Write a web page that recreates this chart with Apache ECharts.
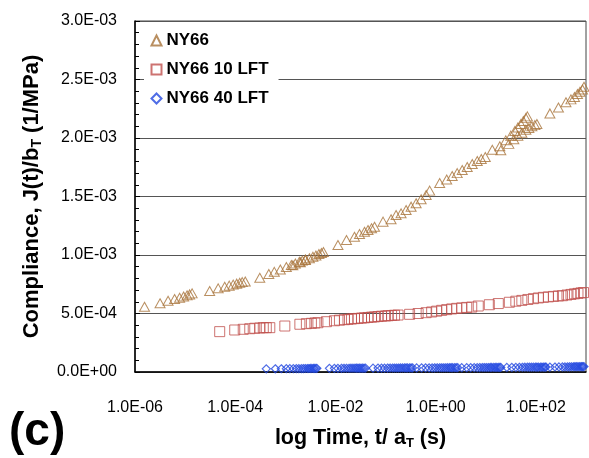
<!DOCTYPE html>
<html>
<head>
<meta charset="utf-8">
<script src="https://cdn.jsdelivr.net/npm/echarts@6/dist/echarts.min.js"></script>
<style>
html,body{margin:0;padding:0;background:#fff;}
#chart{width:589px;height:458px;}
</style>
</head>
<body>
<div id="chart"></div>
<script>
// ---- data: log10 of reduced time t/aT (s) and compliance J(t)/bT (1/MPa) ----
const seriesNames = ['NY66', 'NY66 10 LFT', 'NY66 40 LFT'];

const ny66LogTime = [
  -5.81, -5.50, -5.34, -5.21, -5.11, -5.03, -4.96, -4.91, -4.86,
  -4.51, -4.34, -4.21, -4.12, -4.04, -3.97, -3.91, -3.86, -3.80,
  -3.51, -3.33, -3.22, -3.10, -2.98, -2.88, -2.80, -2.72, -2.66, -2.60,
  -2.85, -2.70, -2.60, -2.52, -2.45, -2.39, -2.33, -2.28, -2.24,
  -1.95, -1.78, -1.62, -1.52, -1.42, -1.35, -1.28, -1.22,
  -1.05, -0.89, -0.79, -0.69, -0.59, -0.49, -0.39, -0.29, -0.19, -0.12,
  0.08, 0.22, 0.33, 0.43, 0.53, 0.63, 0.73, 0.83, 0.91, 0.99,
  1.13, 1.28, 1.40, 1.50, 1.58, 1.64, 1.70, 1.75, 1.80, 1.83,
  1.30, 1.46, 1.56, 1.64, 1.72, 1.80, 1.86, 1.92, 1.98, 2.02,
  2.28, 2.45, 2.60, 2.70, 2.77, 2.83, 2.88, 2.93, 2.96
];
const ny66J = [
  5.58e-4, 5.87e-4, 6.09e-4, 6.24e-4, 6.35e-4, 6.45e-4, 6.55e-4, 6.63e-4, 6.72e-4,
  6.92e-4, 7.15e-4, 7.28e-4, 7.38e-4, 7.47e-4, 7.55e-4, 7.62e-4, 7.68e-4, 7.74e-4,
  8.06e-4, 8.37e-4, 8.56e-4, 8.76e-4, 8.97e-4, 9.14e-4, 9.27e-4, 9.42e-4, 9.52e-4, 9.62e-4,
  9.12e-4, 9.38e-4, 9.58e-4, 9.72e-4, 9.85e-4, 9.96e-4, 10.08e-4, 10.17e-4, 10.25e-4,
  10.85e-4, 11.28e-4, 11.56e-4, 11.80e-4, 11.99e-4, 12.14e-4, 12.28e-4, 12.42e-4,
  12.85e-4, 13.05e-4, 13.42e-4, 13.56e-4, 13.85e-4, 14.13e-4, 14.42e-4, 14.76e-4, 15.13e-4, 15.50e-4,
  16.15e-4, 16.45e-4, 16.75e-4, 17.00e-4, 17.26e-4, 17.52e-4, 17.78e-4, 18.03e-4, 18.20e-4, 18.38e-4,
  19.00e-4, 19.30e-4, 19.80e-4, 20.20e-4, 20.60e-4, 20.90e-4, 21.20e-4, 21.45e-4, 21.70e-4, 21.85e-4,
  18.95e-4, 19.50e-4, 19.90e-4, 20.20e-4, 20.45e-4, 20.70e-4, 20.85e-4, 21.00e-4, 21.10e-4, 21.20e-4,
  22.10e-4, 22.60e-4, 23.05e-4, 23.30e-4, 23.50e-4, 23.76e-4, 23.95e-4, 24.15e-4, 24.38e-4
];

const lft10LogTime = [
  -4.31, -4.01, -3.84, -3.71, -3.61, -3.51, -3.44, -3.38, -3.31,
  -3.01, -2.71, -2.58, -2.48, -2.41, -2.35,
  -2.18, -2.02, -1.92, -1.82, -1.75, -1.68, -1.62, -1.55, -1.48, -1.42,
  -1.35, -1.28, -1.22, -1.15, -1.08, -1.00, -0.95, -0.88, -0.82, -0.75,
  -0.52, -0.35, -0.19, -0.08, 0.02, 0.12, 0.22, 0.32, 0.42, 0.52, 0.62, 0.72,
  0.85, 1.07, 1.25, 1.47, 1.60, 1.72, 1.84, 1.95, 2.05, 2.15, 2.25, 2.35, 2.45, 2.53,
  2.62, 2.70, 2.77, 2.84, 2.90, 2.95
];
const lft10J = [
  3.45e-4, 3.59e-4, 3.65e-4, 3.70e-4, 3.74e-4, 3.76e-4, 3.79e-4, 3.79e-4, 3.79e-4,
  3.93e-4, 4.08e-4, 4.13e-4, 4.16e-4, 4.19e-4, 4.21e-4,
  4.30e-4, 4.38e-4, 4.43e-4, 4.47e-4, 4.50e-4, 4.53e-4, 4.56e-4, 4.58e-4, 4.61e-4, 4.63e-4,
  4.66e-4, 4.69e-4, 4.71e-4, 4.74e-4, 4.77e-4, 4.79e-4, 4.81e-4, 4.83e-4, 4.85e-4, 4.87e-4,
  4.93e-4, 5.00e-4, 5.07e-4, 5.13e-4, 5.20e-4, 5.27e-4, 5.33e-4, 5.39e-4, 5.44e-4, 5.48e-4, 5.52e-4, 5.55e-4,
  5.64e-4, 5.75e-4, 5.85e-4, 5.96e-4, 6.05e-4, 6.12e-4, 6.20e-4, 6.27e-4, 6.33e-4, 6.38e-4, 6.42e-4, 6.46e-4, 6.50e-4, 6.52e-4,
  6.58e-4, 6.63e-4, 6.68e-4, 6.72e-4, 6.76e-4, 6.79e-4
];

const lft40LogTime = [
  -3.38, -3.20, -3.08, -2.98, -2.91, -2.84, -2.78, -2.73, -2.68, -2.64, -2.60, -2.56, -2.53, -2.50, -2.47, -2.44, -2.42, -2.39, -2.37,
  -2.12, -2.02, -1.95, -1.88, -1.83, -1.78, -1.73, -1.69, -1.65, -1.61, -1.58, -1.55, -1.52, -1.49, -1.46, -1.43, -1.40,
  -1.25, -1.15, -1.08, -1.02, -0.96, -0.91, -0.86, -0.82, -0.78, -0.74, -0.70, -0.66, -0.62, -0.59, -0.56, -0.52, -0.49, -0.46,
  -0.38, -0.28, -0.20, -0.13, -0.07, -0.02, 0.03, 0.08, 0.12, 0.16, 0.20, 0.24, 0.28, 0.31, 0.34, 0.38, 0.41, 0.44,
  0.52, 0.62, 0.70, 0.77, 0.83, 0.88, 0.93, 0.97, 1.01, 1.05, 1.09, 1.12, 1.16, 1.19, 1.22, 1.25, 1.28, 1.30,
  1.42, 1.52, 1.60, 1.67, 1.73, 1.78, 1.83, 1.87, 1.91, 1.95, 1.99, 2.02, 2.05, 2.09, 2.12, 2.15, 2.18, 2.20,
  2.28, 2.38, 2.46, 2.53, 2.58, 2.63, 2.67, 2.71, 2.75, 2.78, 2.81, 2.84, 2.87, 2.90, 2.92, 2.94, 2.96
];
const lft40J = [
  2.70e-5, 2.75e-5, 2.80e-5, 2.83e-5, 2.86e-5, 2.88e-5, 2.90e-5, 2.92e-5, 2.94e-5, 2.96e-5, 2.98e-5, 3.00e-5, 3.01e-5, 3.03e-5, 3.04e-5, 3.06e-5, 3.07e-5, 3.09e-5, 3.10e-5,
  3.10e-5, 3.13e-5, 3.15e-5, 3.17e-5, 3.19e-5, 3.20e-5, 3.22e-5, 3.23e-5, 3.24e-5, 3.25e-5, 3.26e-5, 3.27e-5, 3.28e-5, 3.29e-5, 3.30e-5, 3.31e-5, 3.32e-5,
  3.30e-5, 3.33e-5, 3.35e-5, 3.37e-5, 3.39e-5, 3.40e-5, 3.41e-5, 3.42e-5, 3.43e-5, 3.44e-5, 3.45e-5, 3.46e-5, 3.47e-5, 3.48e-5, 3.49e-5, 3.50e-5, 3.51e-5, 3.52e-5,
  3.50e-5, 3.53e-5, 3.55e-5, 3.57e-5, 3.59e-5, 3.60e-5, 3.61e-5, 3.62e-5, 3.63e-5, 3.64e-5, 3.65e-5, 3.66e-5, 3.67e-5, 3.68e-5, 3.69e-5, 3.70e-5, 3.71e-5, 3.72e-5,
  3.70e-5, 3.73e-5, 3.76e-5, 3.78e-5, 3.80e-5, 3.82e-5, 3.83e-5, 3.84e-5, 3.85e-5, 3.86e-5, 3.87e-5, 3.88e-5, 3.89e-5, 3.90e-5, 3.91e-5, 3.92e-5, 3.93e-5, 3.94e-5,
  3.92e-5, 3.97e-5, 4.01e-5, 4.04e-5, 4.07e-5, 4.09e-5, 4.11e-5, 4.13e-5, 4.15e-5, 4.17e-5, 4.18e-5, 4.19e-5, 4.20e-5, 4.21e-5, 4.22e-5, 4.23e-5, 4.24e-5, 4.25e-5,
  4.22e-5, 4.28e-5, 4.33e-5, 4.37e-5, 4.40e-5, 4.43e-5, 4.46e-5, 4.48e-5, 4.50e-5, 4.52e-5, 4.54e-5, 4.56e-5, 4.58e-5, 4.60e-5, 4.61e-5, 4.62e-5, 4.63e-5
];

// axis ranges / tick settings
const xMin = 1e-6, xMax = 1e3;
const yMin = 0, yMax = 3.0e-3, yStep = 5.0e-4;

// -------------------------------------------------------------
function pairs(logT, J) { return logT.map((v, i) => [Math.pow(10, v), J[i]]); }
function sci(v) {
  if (v === 0) return '0.0E+00';
  let e = Math.floor(Math.log10(Math.abs(v)) + 1e-9);
  let m = v / Math.pow(10, e);
  if (Math.round(m * 10) / 10 >= 10) { e += 1; m = v / Math.pow(10, e); }
  return m.toFixed(1) + 'E' + (e < 0 ? '-' : '+') + String(Math.abs(e)).padStart(2, '0');
}
function xLabel(v) {
  const e = Math.round(Math.log10(v));
  return (Math.abs(e) % 2 === 0) ? sci(v) : '';
}

const FONT = '"Liberation Sans", Arial, sans-serif';
const colors = ['#a8733a', '#c0504d', '#2349e0'];
const symbols = ['triangle', 'rect', 'diamond'];
const sizes = [[10, 9], [10, 10], [8, 8]];
const widths = [1, 1, 1.2];
const datas = [pairs(ny66LogTime, ny66J), pairs(lft10LogTime, lft10J), pairs(lft40LogTime, lft40J)];

const chart = echarts.init(document.getElementById('chart'), null, { renderer: 'canvas' });
chart.setOption({
  animation: false,
  backgroundColor: '#fff',
  textStyle: { fontFamily: FONT },
  grid: { left: 135, right: 3, top: 21, bottom: 86, show: true, borderColor: '#444', borderWidth: 1 },
  legend: {
    orient: 'vertical', left: 144, top: 27, padding: [5, 10, 5, 5],
    backgroundColor: '#fff', itemWidth: 10, itemHeight: 10, itemGap: 12,
    textStyle: { fontFamily: FONT, fontSize: 17, fontWeight: 'bold', color: '#000' },
    data: seriesNames.slice()
  },
  xAxis: {
    type: 'log', logBase: 10, min: xMin, max: xMax,
    axisLine: { show: true, lineStyle: { color: '#000', width: 1.5 } },
    axisTick: { show: false },
    splitLine: { show: false },
    axisLabel: { interval: 0, margin: 28, fontSize: 16, color: '#000', fontFamily: FONT, showMinLabel: true, showMaxLabel: false, hideOverlap: false, formatter: xLabel },
    name: 'log Time, t/ a{sub|T} (s)', nameLocation: 'middle', nameGap: 54,
    nameTextStyle: {
      fontSize: 21.5, fontWeight: 'bold', color: '#000', fontFamily: FONT,
      rich: { sub: { fontSize: 13, fontWeight: 'bold', color: '#000', fontFamily: FONT, padding: [11, 0, 0, 0] } }
    }
  },
  yAxis: {
    type: 'value', min: yMin, max: yMax, interval: yStep,
    axisLine: { show: true, lineStyle: { color: '#000', width: 1.5 } },
    axisTick: { show: true, inside: true, length: 5, lineStyle: { color: '#000' } },
    minorTick: { show: true, splitNumber: 5, length: 4, lineStyle: { color: '#000' } },
    splitLine: { show: true, lineStyle: { color: '#555', width: 1 } },
    axisLabel: { margin: 18, fontSize: 16, color: '#000', fontFamily: FONT, formatter: v => sci(v) },
    name: 'Compliance, J(t)/b{sub|T} (1/MPa)', nameLocation: 'middle', nameGap: 91, nameRotate: 90,
    nameTextStyle: {
      fontSize: 22, fontWeight: 'bold', color: '#000', fontFamily: FONT,
      rich: { sub: { fontSize: 14, fontWeight: 'bold', color: '#000', fontFamily: FONT, padding: [11, 0, 0, 0] } }
    }
  },
  graphic: [{
    type: 'text', left: 9, top: 409,
    style: { text: '(c)', font: 'bold 46px "Liberation Sans", Arial, sans-serif', fill: '#000' }
  }],
  series: seriesNames.map((n, i) => ({
    name: n, type: 'scatter', symbol: symbols[i], symbolSize: sizes[i],
    itemStyle: { color: 'none', borderColor: colors[i], borderWidth: widths[i] },
    data: datas[i]
  }))
});
</script>
</body>
</html>
